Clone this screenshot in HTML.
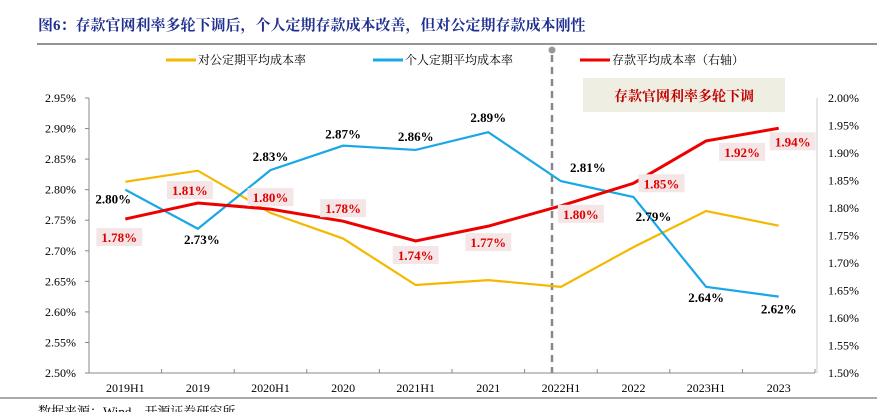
<!DOCTYPE html>
<html><head><meta charset="utf-8"><style>
body{margin:0;background:#fff;width:877px;height:412px;overflow:hidden;font-family:"Liberation Serif","Noto Serif CJK SC",serif}
svg text{font-family:"Liberation Serif","Noto Serif CJK SC",serif}
</style></head><body>
<svg width="877" height="412">
<text x="38" y="30" font-size="15" font-weight="bold" fill="#1f2f8f">图6：存款官网利率多轮下调后，个人定期存款成本改善，但对公定期存款成本刚性</text>
<line x1="37" y1="44" x2="877" y2="44" stroke="#555" stroke-width="1.2"/>
<g font-size="12">
<line x1="166" y1="60" x2="196" y2="60" stroke="#f5b800" stroke-width="3"/><text x="198" y="64">对公定期平均成本率</text>
<line x1="373" y1="60" x2="403" y2="60" stroke="#1aa7e8" stroke-width="3"/><text x="405" y="64">个人定期平均成本率</text>
<line x1="580" y1="60" x2="610" y2="60" stroke="#ee0000" stroke-width="3"/><text x="612" y="64">存款平均成本率（右轴）</text>
</g>
<rect x="583" y="78" width="202" height="34" fill="#efeee2"/>
<text x="684" y="101" font-size="14" font-weight="bold" fill="#c00000" text-anchor="middle">存款官网利率多轮下调</text>
<g id="plot"></g>
<line x1="0" y1="398" x2="877" y2="398" stroke="#555"/>
<text x="38" y="416" font-size="13">数据来源：Wind、开源证券研究所</text>
</svg>
<script>
const categories=["2019H1","2019","2020H1","2020","2021H1","2021","2022H1","2022","2023H1","2023"];
const corpValues=[2.813,2.831,2.762,2.72,2.644,2.652,2.641,2.706,2.765,2.741];
const personalValues=[2.80,2.736,2.832,2.872,2.865,2.894,2.814,2.788,2.641,2.625];
const depositValues=[1.78,1.809,1.798,1.776,1.74,1.767,1.804,1.845,1.922,1.945];
const personalLabels=["2.80%","2.73%","2.83%","2.87%","2.86%","2.89%","2.81%","2.79%","2.64%","2.62%"];
const depositLabels=["1.78%","1.81%","1.80%","1.78%","1.74%","1.77%","1.80%","1.85%","1.92%","1.94%"];
const leftTicks=[2.50,2.55,2.60,2.65,2.70,2.75,2.80,2.85,2.90,2.95];
const rightTicks=[1.50,1.55,1.60,1.65,1.70,1.75,1.80,1.85,1.90,1.95,2.00];
const NS="http://www.w3.org/2000/svg";
const g=document.getElementById('plot');
const X0=89,X1=815,Y0=373,Y1=98;
const bw=(X1-X0)/categories.length;
const xs=i=>X0+bw*(i+0.5);
const yL=v=>Y0-(v-2.50)/0.45*(Y0-Y1);
const yR=v=>Y0-(v-1.50)/0.50*(Y0-Y1);
function mk(t,a,p){const e=document.createElementNS(NS,t);for(const k in a)e.setAttribute(k,a[k]);(p||g).appendChild(e);return e;}
let e;
e=mk('line',{x1:X0,y1:Y1,x2:X0,y2:Y0,stroke:'#888'});


e=mk('line',{x1:X0,y1:Y0,x2:X1,y2:Y0,stroke:'#888'});


e=mk('line',{x1:X1+2,y1:Y1,x2:X1+2,y2:Y0,stroke:'#ccc'});


leftTicks.forEach(v=>{mk('line',{x1:X0-4,y1:yL(v),x2:X0,y2:yL(v),stroke:'#888'});
 e=mk('text',{x:X0-13,y:yL(v)+4,'font-size':12,'text-anchor':'end'});e.textContent=v.toFixed(2)+'%';
 
 });
rightTicks.forEach(v=>{e=mk('text',{x:828,y:yR(v)+4,'font-size':12});e.textContent=v.toFixed(2)+'%';
 
 });
categories.forEach((c,i)=>{mk('line',{x1:X0+bw*(i+1),y1:Y0,x2:X0+bw*(i+1),y2:Y0-4,stroke:'#888'});
 e=mk('text',{x:xs(i),y:392,'font-size':12,'text-anchor':'middle'});e.textContent=c;
 
 });
e=mk('line',{x1:552,y1:55,x2:552,y2:Y0,stroke:'#888','stroke-width':2.5,'stroke-dasharray':'7,5'});


mk('circle',{cx:552,cy:50,r:3.5,fill:'#999'});
function line(vals,f,col,name){e=mk('polyline',{points:vals.map((v,i)=>xs(i)+','+f(v)).join(' '),fill:'none',stroke:col,'stroke-width':name==='deposit-line'?3:2.2});
 
 }
line(corpValues,yL,'#f5b800','corporate-line');
line(personalValues,yL,'#1aa7e8','personal-line');
line(depositValues,yR,'#ee0000','deposit-line');
const pOff=[[-12,10],[4,11],[0,-13],[0,-11],[0,-13],[0,-14],[27,-13],[20,20],[0,11],[0,13]];
personalValues.forEach((v,i)=>{e=mk('text',{x:xs(i)+pOff[i][0],y:yL(v)+pOff[i][1]+4,'font-size':13,'font-weight':'bold','text-anchor':'middle'});e.textContent=personalLabels[i];
 
 });
const dOff=[[-6,18],[-8,-13],[0,-12],[0,-13],[0,14],[0,16],[20,8],[28,0],[36,11],[14,13]];
depositValues.forEach((v,i)=>{const cx=xs(i)+dOff[i][0],cy=yR(v)+dOff[i][1];
 mk('rect',{x:cx-23,y:cy-9,width:46,height:18,fill:'#f4e6e6'});
 e=mk('text',{x:cx,y:cy+5,'font-size':13,'font-weight':'bold','text-anchor':'middle',fill:'#e00000'});e.textContent=depositLabels[i];
 
 });
</script>
</body></html>
